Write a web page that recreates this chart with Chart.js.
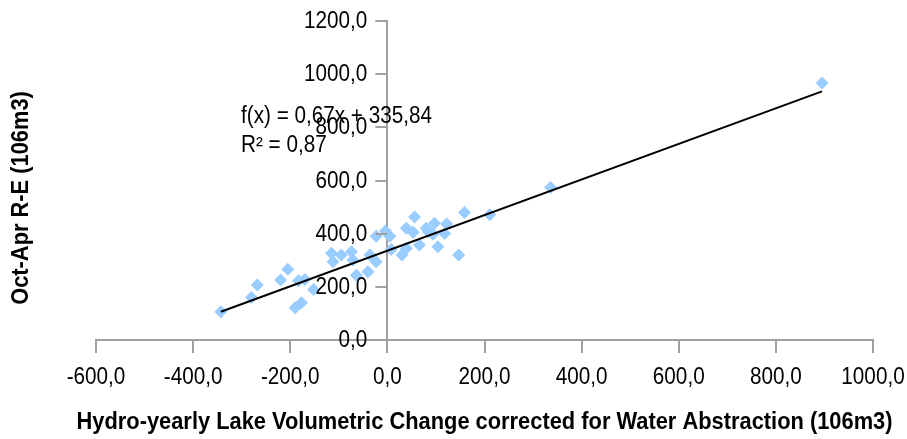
<!DOCTYPE html>
<html lang="en">

<head>
    <meta charset="UTF-8" />
    <title>Lake volumetric change vs Oct-Apr R-E</title>
    <script src="https://cdn.jsdelivr.net/npm/chart.js"></script>
    <style>
        body { margin: 0; background: #fff; }
        .wrap { width: 907px; height: 439px; position: relative; }
    </style>
</head>

<body>
    <div class="wrap">
        <canvas id="scatterChart"></canvas>
    </div>

    <script>
        // values (x = volumetric change, y = Oct-Apr R-E)
        const volumeChange = [
            -343, -280, -268, -220, -205, -190, -177, -183, -170, -152,
            -115, -112, -95, -74, -71, -64, -36, -40, -23, -23,
            -4, 5, 8, 30, 39, 39, 53, 56, 66, 80,
            84, 97, 94, 104, 118, 122, 147, 159, 211, 336,
            895
        ];
        const octAprRE = [
            106, 160, 207, 226, 266, 121, 140, 223, 228, 190,
            326, 294, 320, 332, 301, 244, 320, 257, 294, 390,
            410, 390, 340, 320, 345, 420, 405, 463, 357, 420,
            407, 439, 398, 351, 401, 436, 320, 480, 471, 574,
            967
        ];

        // trend line as given on the chart
        const slope = 0.67;
        const intercept = 335.84;
        const trendLabel = ["f(x) = 0,67x + 335,84", "R² = 0,87"];

        const xTicks = { min: -600, max: 1000, step: 200 };
        const yTicks = { min: 0, max: 1200, step: 200 };

        const points = volumeChange.map((x, i) => ({ x: x, y: octAprRE[i] }));
        const xLo = Math.min(...volumeChange);
        const xHi = Math.max(...volumeChange);
        const trendPoints = [
            { x: xLo, y: slope * xLo + intercept },
            { x: xHi, y: slope * xHi + intercept },
        ];

        const fmt = (v) => v.toFixed(1).replace(".", ",");
        const axisColor = "#a0a0a0";
        const fontFamily = "'Liberation Sans', Arial, sans-serif";

        // the reference uses a condensed face, so squeeze the text a bit
        function squeezed(ctx, text, x, y, align, sx) {
            ctx.save();
            ctx.translate(x, y);
            ctx.scale(sx, 1);
            ctx.textAlign = align;
            ctx.fillText(text, 0, 0);
            ctx.restore();
        }

        // tick labels, axis titles and regression text drawn on the canvas
        const textPlugin = {
            id: "textPlugin",
            afterDraw(chart) {
                const ctx = chart.ctx;
                const area = chart.chartArea;
                const xs = chart.scales.x;
                const ys = chart.scales.y;
                const axisX = xs.getPixelForValue(0);
                const axisY = ys.getPixelForValue(0);
                ctx.save();
                ctx.fillStyle = "#000";
                ctx.textBaseline = "middle";

                // y tick marks and labels, left of the axis at x = 0
                ctx.strokeStyle = axisColor;
                ctx.lineWidth = 2;
                ctx.font = "23px " + fontFamily;
                ys.ticks.forEach((t) => {
                    const py = Math.round(ys.getPixelForValue(t.value));
                    ctx.beginPath();
                    ctx.moveTo(axisX - 12, py);
                    ctx.lineTo(axisX, py);
                    ctx.stroke();
                    squeezed(ctx, fmt(t.value), axisX - 20, py + 1, "right", 0.9);
                });

                xs.ticks.forEach((t) => {
                    const px = xs.getPixelForValue(t.value);
                    squeezed(ctx, fmt(t.value), px, axisY + 38, "center", 0.9);
                });

                ctx.font = "bold 23px " + fontFamily;
                squeezed(ctx,
                    "Hydro-yearly Lake Volumetric Change corrected for Water Abstraction (106m3)",
                    (area.left + area.right) / 2, 423, "center", 0.95);

                ctx.save();
                ctx.translate(22, 198);
                ctx.rotate(-Math.PI / 2);
                squeezed(ctx, "Oct-Apr R-E (106m3)", 0, 0, "center", 0.95);
                ctx.restore();

                ctx.font = "23px " + fontFamily;
                squeezed(ctx, trendLabel[0], 241, 117, "left", 0.9);
                squeezed(ctx, trendLabel[1], 241, 146, "left", 0.9);
                ctx.restore();
            },
        };

        const noEdgePadding = (scale) => {
            scale.paddingLeft = 0;
            scale.paddingRight = 0;
            scale.paddingTop = 0;
            scale.paddingBottom = 0;
        };

        const ctx = document.getElementById("scatterChart").getContext("2d");
        const scatterChart = new Chart(ctx, {
            type: "scatter",
            data: {
                datasets: [
                    {
                        type: "line",
                        label: "Trend",
                        data: trendPoints,
                        borderColor: "#000",
                        borderWidth: 2,
                        pointRadius: 0,
                        fill: false,
                        order: 0,
                    },
                    {
                        label: "Oct-Apr R-E",
                        data: points,
                        pointStyle: "rectRot",
                        pointRadius: 6.5,
                        pointHoverRadius: 6.5,
                        pointBorderWidth: 0,
                        backgroundColor: "#99ccff",
                        borderColor: "#99ccff",
                        order: 1,
                    },
                ],
            },
            options: {
                responsive: true,
                maintainAspectRatio: false,
                animation: false,
                layout: {
                    padding: { left: 96, right: 34, top: 21, bottom: 99 },
                },
                plugins: {
                    legend: { display: false },
                    tooltip: { enabled: false },
                },
                scales: {
                    x: {
                        type: "linear",
                        position: { y: 0 },
                        min: xTicks.min,
                        max: xTicks.max,
                        afterFit: noEdgePadding,
                        ticks: {
                            stepSize: xTicks.step,
                            display: false,
                        },
                        grid: {
                            drawOnChartArea: false,
                            tickLength: 12,
                            color: axisColor,
                            lineWidth: 2,
                        },
                        border: { color: axisColor, width: 2 },
                    },
                    y: {
                        type: "linear",
                        position: { x: 0 },
                        min: yTicks.min,
                        max: yTicks.max,
                        afterFit: noEdgePadding,
                        ticks: {
                            stepSize: yTicks.step,
                            display: false,
                        },
                        grid: {
                            drawOnChartArea: false,
                            drawTicks: false,
                        },
                        border: { color: axisColor, width: 2 },
                    },
                },
            },
            plugins: [textPlugin],
        });
    </script>
</body>

</html>
